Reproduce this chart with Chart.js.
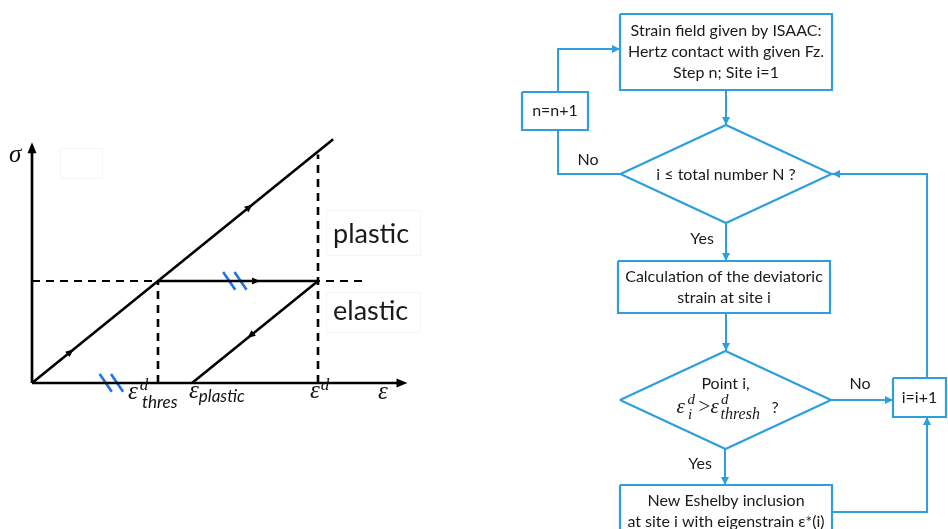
<!DOCTYPE html>
<html><head><meta charset="utf-8">
<script src="https://cdn.jsdelivr.net/npm/chart.js@4.4.1/dist/chart.umd.min.js"></script>
<style>
html,body{margin:0;padding:0;background:#fff;width:948px;height:529px;overflow:hidden}
#stress{position:absolute;left:0;top:0}
#flow{position:absolute;left:474px;top:0}
</style></head><body>
<canvas id="stress" width="474" height="529"></canvas>
<canvas id="flow" width="474" height="529"></canvas>
<script>
// ---------- stress–strain model (strain in units of the threshold strain, stress in units of the yield stress)
const strainThres = 1.0;
const strainD = 2.27;
const strainPlastic = 1.27;          // residual strain after elastic unloading
const yieldStress = 1.0;
const loadingPath = [[0, 0], [2.39, 2.39]];
const flowPath = [[strainThres, yieldStress], [strainD, yieldStress]];
const unloadPath = [[strainD, yieldStress], [strainPlastic, 0]];
const axisLimits = [2.98, 2.36];     // strain, stress at the axis arrow tips
const yieldLineEnd = 2.66;
const slashCentres = [[0.63, 0], [1.61, yieldStress]];
const midArrows = [                  // [strain, stress, direction strain, direction stress]
  [0.33, 0.33, 1, 1], [1.75, 1.75, 1, 1], [1.81, 1.0, 1, 0], [1.71, 0.44, -1, -1]
];
const regionLabels = ['plastic', 'elastic'];

// ---------- flowchart
const flowBlue = '#2E9FDA';
const boxes = [   // [left, top, right, bottom, text lines]
  [620, 14, 832, 90, ['Strain field given by ISAAC:', 'Hertz contact with given Fz.', 'Step n; Site i=1']],
  [522, 92, 588, 130, ['n=n+1']],
  [618, 261, 830, 313, ['Calculation of the deviatoric', 'strain at site i']],
  [893, 378, 946, 417, ['i=i+1']],
  [620, 485, 832, 545, ['New Eshelby inclusion', 'at site i with eigenstrain \u03b5*(i)']]
];
const diamonds = [  // [centre x, centre y, half width, half height]
  [726, 174, 105.5, 49],
  [725.5, 400, 105.5, 49]
];
const connectors = [  // polylines, arrow at the last point when flagged
  [[[726, 90], [726, 125]], true],
  [[[726, 223], [726, 261]], true],
  [[[726, 313], [726, 351]], true],
  [[[725, 449], [725, 485]], true],
  [[[831, 400], [893, 400]], true],
  [[[832, 512], [927, 512], [927, 417]], true],
  [[[927, 378], [927, 174], [832, 174]], true],
  [[[621, 174], [558, 174], [558, 130]], false],
  [[[558, 92], [558, 49], [620, 49]], true]
];
const branchLabels = [['No', 588, 160], ['Yes', 702, 239], ['No', 860, 384], ['Yes', 700, 464]];

const pts = a => a.map(p => ({x: p[0], y: p[1]}));
const seg = (data, color, width, dash) => ({
  data: pts(data), showLine: true, borderColor: color, borderWidth: width,
  borderDash: dash || [], pointRadius: 0, fill: false, tension: 0, clip: false
});

function arrowHead(ctx, x, y, ang, len, hw, color) {
  ctx.save();
  ctx.translate(x, y); ctx.rotate(ang);
  ctx.beginPath(); ctx.moveTo(0, 0); ctx.lineTo(-len, -hw); ctx.lineTo(-len, hw); ctx.closePath();
  ctx.fillStyle = color; ctx.fill();
  ctx.restore();
}
function rich(ctx, x, y, parts) {
  let cx = x;
  for (const p of parts) {
    ctx.font = p.f; ctx.fillText(p.t, cx + (p.dx || 0), y + (p.dy || 0));
    cx += ctx.measureText(p.t).width + (p.dx || 0);
  }
}

// ---------- left: stress–strain sketch
const slashSegs = [];
for (const [sx, sy] of slashCentres) {
  for (const off of [-0.045, 0.045]) {
    slashSegs.push(seg([[sx + off - 0.048, sy + 0.088], [sx + off + 0.048, sy - 0.085]], '#1E73E8', 2.6));
  }
}
const stressDatasets = [
  seg([[0, yieldStress], [yieldLineEnd, yieldStress]], '#000', 2.2, [8, 6]),
  seg([[strainThres, 0], [strainThres, yieldStress]], '#000', 2.6, [8, 6]),
  seg([[strainD, 0], [strainD, 2.24]], '#000', 2.6, [8, 6]),
  seg([[0, 0], [axisLimits[0] - 0.05, 0]], '#000', 2.7),
  seg([[0, 0], [0, axisLimits[1] - 0.05]], '#000', 2.7),
  seg(loadingPath, '#000', 2.6),
  seg(flowPath, '#000', 2.6),
  seg(unloadPath, '#000', 2.6),
  ...slashSegs
];

const stressDecor = {
  id: 'stressDecor',
  afterDatasetsDraw(chart) {
    const ctx = chart.ctx, X = chart.scales.x, Y = chart.scales.y;
    const px = v => X.getPixelForValue(v), py = v => Y.getPixelForValue(v);
    // axis arrow tips
    arrowHead(ctx, px(axisLimits[0]), py(0), 0, 11, 4.5, '#000');
    arrowHead(ctx, px(0), py(axisLimits[1]), -Math.PI / 2, 11, 4.5, '#000');
    // direction markers along the paths
    for (const [sx, sy, dx, dy] of midArrows) {
      const ang = Math.atan2(py(sy + dy * 0.1) - py(sy), px(sx + dx * 0.1) - px(sx));
      arrowHead(ctx, px(sx), py(sy), ang, 8, 3.5, '#000');
    }
    // faint label frames
    ctx.strokeStyle = '#f5f5f5'; ctx.lineWidth = 1;
    ctx.strokeRect(60.5, 148.5, 42, 30);
    ctx.strokeRect(326.5, 210.5, 94, 45);
    ctx.strokeRect(326.5, 292.5, 94, 40);
    // region labels
    ctx.fillStyle = '#1a1a1a'; ctx.textBaseline = 'alphabetic'; ctx.textAlign = 'left';
    ctx.font = '27px Lato';
    ctx.fillText(regionLabels[0], 333, 243);
    ctx.fillText(regionLabels[1], 333, 320);
    // axis symbols
    const serifI = s => 'italic ' + s + 'px "Liberation Serif"';
    const sansI = s => 'italic ' + s + 'px Lato';
    ctx.fillStyle = '#111';
    ctx.font = serifI(25); ctx.fillText('\u03c3', 9, 162);
    ctx.fillText('\u03b5', 378, 399);
    rich(ctx, px(strainThres) - 30, 399, [
      {t: '\u03b5', f: serifI(25)},
      {t: 'd', f: serifI(17), dy: -9, dx: 2}
    ]);
    ctx.font = sansI(17); ctx.fillText('thres', px(strainThres) - 16, 408);
    rich(ctx, px(strainPlastic) - 3, 398, [
      {t: '\u03b5', f: serifI(25)},
      {t: 'plastic', f: sansI(17), dy: 4, dx: 0}
    ]);
    rich(ctx, px(strainD) - 8, 398, [
      {t: '\u03b5', f: serifI(25)},
      {t: 'd', f: serifI(17), dy: -8, dx: 1}
    ]);
  }
};

new Chart(document.getElementById('stress'), {
  type: 'scatter',
  data: {datasets: stressDatasets},
  options: {
    responsive: false, animation: false, events: [],
    layout: {padding: {left: 32, right: 64, top: 128, bottom: 146}},
    plugins: {legend: {display: false}, tooltip: {enabled: false}},
    scales: {
      x: {type: 'linear', min: 0, max: 3.0, display: false},
      y: {type: 'linear', min: 0, max: 2.5, display: false}
    }
  },
  plugins: [stressDecor]
});

// ---------- right: flowchart
const flowDatasets = [];
for (const [l, t, r, b] of boxes) {
  flowDatasets.push(seg([[l, t], [r, t], [r, b], [l, b], [l, t]], flowBlue, 2.2));
}
for (const [cx, cy, hw, hh] of diamonds) {
  flowDatasets.push(seg([[cx - hw, cy], [cx, cy - hh], [cx + hw, cy], [cx, cy + hh], [cx - hw, cy]], flowBlue, 2.2));
}
for (const [line] of connectors) {
  flowDatasets.push(seg(line, flowBlue, 2));
}

const flowDecor = {
  id: 'flowDecor',
  afterDatasetsDraw(chart) {
    const ctx = chart.ctx, X = chart.scales.x, Y = chart.scales.y;
    const px = v => X.getPixelForValue(v), py = v => Y.getPixelForValue(v);
    for (const [line, arrow] of connectors) {
      if (!arrow) continue;
      const a = line[line.length - 2], b = line[line.length - 1];
      const ang = Math.atan2(py(b[1]) - py(a[1]), px(b[0]) - px(a[0]));
      arrowHead(ctx, px(b[0]), py(b[1]), ang, 8, 4, flowBlue);
    }
    ctx.fillStyle = '#1a1a1a'; ctx.textAlign = 'center'; ctx.textBaseline = 'middle';
    ctx.font = '16px Lato';
    for (const [l, t, r, b, lines] of boxes) {
      const cx = (l + r) / 2;
      const cy = lines.length === 1 ? (t + b) / 2 : t + (lines.length === 3 ? 38 : 26);
      const lh = 21;
      lines.forEach((s, i) => ctx.fillText(s, px(cx), py(cy) + (i - (lines.length - 1) / 2) * lh));
    }
    ctx.fillText('i \u2264 total number N ?', px(diamonds[0][0]), py(diamonds[0][1]) + 1);
    ctx.fillText('Point i,', px(diamonds[1][0]), py(diamonds[1][1]) - 16);
    for (const [s, x, y] of branchLabels) ctx.fillText(s, px(x), py(y));
    // decision condition with super/subscripts
    ctx.textAlign = 'left'; ctx.textBaseline = 'alphabetic';
    const si = s => 'italic ' + s + 'px "Liberation Serif"';
    const put = (t, f, x, y) => { ctx.font = f; ctx.fillText(t, px(x), py(y)); };
    put('\u03b5', si(21), 676.5, 413);
    put('d', si(15), 687.5, 404);
    put('i', si(15), 688, 419);
    put('>', '21px "Liberation Serif"', 698.5, 413);
    put('\u03b5', si(21), 710.5, 413);
    put('d', si(15), 721, 404);
    put('thresh', si(16), 720.5, 419);
    put('?', '16px Lato', 771.5, 413);
  }
};

new Chart(document.getElementById('flow'), {
  type: 'scatter',
  data: {datasets: flowDatasets},
  options: {
    responsive: false, animation: false, events: [],
    layout: {padding: 0},
    plugins: {legend: {display: false}, tooltip: {enabled: false}},
    scales: {
      x: {type: 'linear', min: 474, max: 948, display: false},
      y: {type: 'linear', min: 0, max: 529, reverse: true, display: false}
    }
  },
  plugins: [flowDecor]
});
</script>
</body></html>
